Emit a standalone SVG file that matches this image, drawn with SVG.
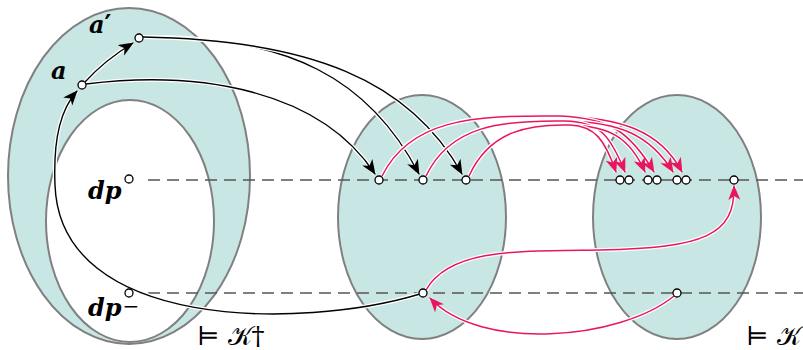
<svg xmlns="http://www.w3.org/2000/svg" width="803" height="350" viewBox="0 0 803 350">
<style>
.set{fill:#c8e6e3;stroke:#808080;stroke-width:2}
.hole{fill:#ffffff;stroke:#808080;stroke-width:2}
.dash{fill:none;stroke:#555;stroke-width:1.3;stroke-dasharray:12 7}
.halo{fill:none;stroke:#ffffff;stroke-width:4}
.blk{fill:none;stroke:#000;stroke-width:1.4}
.pnk{fill:none;stroke:#e8175d;stroke-width:1.5}
.node{fill:#fff;stroke:#000;stroke-width:1.3}
.lbl{font-family:"DejaVu Serif","Liberation Serif",serif;font-style:italic;font-weight:bold;font-size:24px;fill:#000}
.mod{font-family:"DejaVu Serif","Liberation Serif",serif;font-size:26px;fill:#000}
</style>
<defs>
<marker id="ab" markerUnits="userSpaceOnUse" markerWidth="16" markerHeight="14" refX="14" refY="6" orient="auto"><path d="M0,0 L15,6 L0,12 L4,6 Z" fill="#000"/></marker>
<marker id="ap" markerUnits="userSpaceOnUse" markerWidth="16" markerHeight="14" refX="14" refY="6" orient="auto"><path d="M0,0 L15,6 L0,12 L4,6 Z" fill="#e8175d"/></marker>
</defs>
<g id="set-left"><ellipse class="set" cx="129" cy="176" rx="121" ry="168"/><ellipse class="hole" cx="130" cy="221" rx="84" ry="121"/></g>
<g id="set-mid"><ellipse class="set" cx="422" cy="217" rx="84" ry="122"/></g>
<g id="set-right"><ellipse class="set" cx="677" cy="217" rx="84" ry="122"/></g>
<g id="dashes"><line class="dash" x1="148" y1="180" x2="803" y2="180"/><line class="dash" x1="148" y1="293" x2="803" y2="293"/></g>
<g id="connectors">
<path class="halo" d="M85 82 Q105 60 133 43"/><path class="blk" d="M85 82 Q105 60 133 43" marker-end="url(#ab)"/>
<path class="halo" d="M420 294 C300 330 60 330 55 185 C53 135 62 108 77 91"/><path class="blk" d="M420 294 C300 330 60 330 55 185 C53 135 62 108 77 91" marker-end="url(#ab)"/>
<path class="halo" d="M86 84 C200 70 320 90 375 174"/><path class="blk" d="M86 84 C200 70 320 90 375 174" marker-end="url(#ab)"/>
<path class="halo" d="M143 37 C290 35 370 80 419 174"/><path class="blk" d="M143 37 C290 35 370 80 419 174" marker-end="url(#ab)"/>
<path class="halo" d="M143 37 C310 40 410 80 462 174"/><path class="blk" d="M143 37 C310 40 410 80 462 174" marker-end="url(#ab)"/>
<g id="pink-arcs">
<path class="halo" d="M382 176 C410 120 470 115 560 116 C620 118 660 130 682 172"/><path class="pnk" d="M382 176 C410 120 470 115 560 116 C620 118 660 130 682 172" marker-end="url(#ap)"/>
<path class="halo" d="M382 176 C410 120 470 115 560 116 C610 118 630 132 654 172"/><path class="pnk" d="M382 176 C410 120 470 115 560 116 C610 118 630 132 654 172" marker-end="url(#ap)"/>
<path class="halo" d="M426 176 C450 126 500 120 565 121 C620 122 650 135 673 172"/><path class="pnk" d="M426 176 C450 126 500 120 565 121 C620 122 650 135 673 172" marker-end="url(#ap)"/>
<path class="halo" d="M426 176 C450 126 500 120 565 121 C600 122 610 135 625 172"/><path class="pnk" d="M426 176 C450 126 500 120 565 121 C600 122 610 135 625 172" marker-end="url(#ap)"/>
<path class="halo" d="M469 176 C490 130 530 124 570 125 C610 126 630 138 645 172"/><path class="pnk" d="M469 176 C490 130 530 124 570 125 C610 126 630 138 645 172" marker-end="url(#ap)"/>
<path class="halo" d="M469 176 C490 130 530 124 570 125 C595 126 605 140 616 172"/><path class="pnk" d="M469 176 C490 130 530 124 570 125 C595 126 605 140 616 172" marker-end="url(#ap)"/>
</g>
<path class="halo" d="M674 296 C620 340 480 352 430 298"/><path class="pnk" d="M674 296 C620 340 480 352 430 298" marker-end="url(#ap)"/>
<path class="halo" d="M426 290 C450 248 520 251 600 250 C705 248 735 235 734 186"/><path class="pnk" d="M426 290 C450 248 520 251 600 250 C705 248 735 235 734 186" marker-end="url(#ap)"/>
</g>
<g id="node-a"><circle class="node" cx="82" cy="85" r="4"/><text class="lbl" x="51" y="79">a</text></g>
<g id="node-a-prime"><circle class="node" cx="139" cy="38" r="4"/><text class="lbl" x="89" y="33">a<tspan font-style="normal" font-size="26">′</tspan></text></g>
<g id="node-dp"><circle class="node" cx="129" cy="179" r="4"/><text class="lbl" x="88" y="199">dp</text></g>
<g id="node-dp-minus"><circle class="node" cx="129" cy="293" r="4"/><text class="lbl" x="88" y="316">dp<tspan font-size="20" dx="1" dy="-3" font-style="normal" font-weight="normal">−</tspan></text></g>
<g id="node-m1"><circle class="node" cx="379" cy="180" r="4"/></g>
<g id="node-m2"><circle class="node" cx="423" cy="180" r="4"/></g>
<g id="node-m3"><circle class="node" cx="466" cy="180" r="4"/></g>
<g id="node-m4"><circle class="node" cx="423" cy="293" r="4"/></g>
<g id="node-r1"><circle class="node" cx="620" cy="180" r="4"/><circle class="node" cx="629" cy="180" r="4"/></g>
<g id="node-r2"><circle class="node" cx="648" cy="180" r="4"/><circle class="node" cx="657" cy="180" r="4"/></g>
<g id="node-r3"><circle class="node" cx="677" cy="180" r="4"/><circle class="node" cx="686" cy="180" r="4"/></g>
<g id="node-r4"><circle class="node" cx="734" cy="180" r="4"/></g>
<g id="node-r5"><circle class="node" cx="677" cy="293" r="4"/></g>
<g id="label-kdag"><text class="mod" x="197" y="345">⊨ 𝒦†</text></g>
<g id="label-k"><text class="mod" x="746" y="345">⊨ 𝒦</text></g>
</svg>
